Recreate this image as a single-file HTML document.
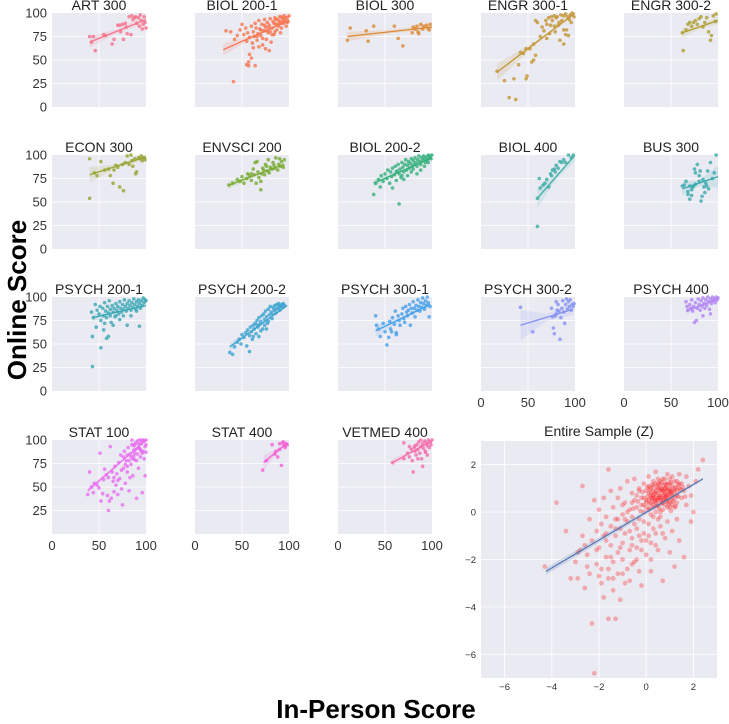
<!DOCTYPE html>
<html><head><meta charset="utf-8">
<style>
html,body{margin:0;padding:0;background:#fff;}
svg{display:block;font-family:"Liberation Sans",Arial,sans-serif;}
</style></head>
<body>
<svg id="fig" width="729" height="724" viewBox="0 0 729 724" xmlns="http://www.w3.org/2000/svg">
<text x="0" y="0" transform="translate(26,300) rotate(-90)" text-anchor="middle" font-size="26" font-weight="bold" fill="#000">Online Score</text>
<text x="376" y="718" text-anchor="middle" font-size="26" font-weight="bold" fill="#000">In-Person Score</text>
</svg>
<script>
// ---- Data ----
const courseNames = ["ART 300","BIOL 200-1","BIOL 300","ENGR 300-1","ENGR 300-2","ECON 300","ENVSCI 200","BIOL 200-2","BIOL 400","BUS 300","PSYCH 200-1","PSYCH 200-2","PSYCH 300-1","PSYCH 300-2","PSYCH 400","STAT 100","STAT 400","VETMED 400"];
const courseColors = ["#f77189","#f7754f","#dc8932","#c39532","#ae9d31","#97a431","#77ab31","#33b07a","#36ada4","#38aaac","#39a7b4","#3ba3d0","#45a0ea","#8591f2","#b184f3","#e86ef0","#f25fd5","#f56baa"];
// regression line endpoints [x0,y0,x1,y1]
const fitLines = [
[40,69,100,93],[30,61,100,92],[10,75,100,85],[17,37,100,100],[62,79,100,92],
[40,79,100,98],[36,68,95,90],[38,70,100,97],[60,54,100,100],[62,64,100,77],
[43,78,100,91],[37,47,98,91],[40,64,98,92],[42,70,98,87],[66,85,100,98],
[38,46,100,100],[73,76,98,97],[58,76,100,99]];
// confidence half-widths [start, middle, end]
const fitBands = [
[6,2,4],[6,1.5,2],[5,2,3],[9,2,3],[5,2,4],[8,2,3],[4,1.5,3],[4,1,2],[10,3,6],[7,3,12],
[4,1,1.5],[4,1,2],[6,2,3],[16,4,6],[4,1.5,2],[4,1.5,2],[8,3,4],[4,1.5,2]];
const coursePoints = [
[[40,75],[44,75],[42,69],[46,60],[55,77],[57,76],[64,67],[66,72],[70,87],[72,87],[73,80],[75,88],[76,72],[78,89],[79,85],[80,78],[82,96],[84,77],[85,97],[86,93],[88,95],[89,96],[90,89],[92,95],[93,86],[94,98],[95,92],[96,83],[97,88],[98,96],[99,90],[100,84]],
[[41,27],[55,45],[57,48],[64,44],[57,44],[58,56],[60,52],[33,81],[38,80],[42,72],[45,76],[48,82],[50,88],[52,77],[54,84],[55,70],[56,79],[58,74],[60,86],[61,68],[62,80],[63,75],[64,89],[65,84],[66,71],[67,78],[68,92],[69,83],[70,76],[71,88],[72,66],[73,81],[74,93],[75,85],[76,72],[77,90],[78,79],[79,87],[80,94],[81,69],[82,84],[83,91],[84,77],[85,95],[86,88],[87,82],[88,93],[89,86],[90,96],[91,90],[92,84],[93,94],[94,89],[95,97],[96,92],[97,86],[98,95],[99,91],[100,97],[72,73],[74,87],[76,81],[78,85],[80,80],[82,77],[84,89],[86,93],[88,88],[90,91],[92,96],[94,92],[96,95],[98,90],[70,82],[66,75],[62,63],[79,60],[85,80],[91,79],[75,62],[68,64]],
[[10,71],[13,84],[30,81],[32,70],[38,86],[60,86],[64,73],[69,65],[79,79],[80,85],[82,83],[84,86],[85,80],[86,78],[88,88],[90,83],[91,86],[94,87],[96,84],[97,82],[98,88]],
[[17,38],[25,28],[30,10],[35,30],[37,8],[40,45],[42,58],[45,57],[48,62],[48,30],[49,33],[52,62],[54,48],[56,67],[56,50],[58,55],[58,92],[60,90],[63,75],[65,85],[67,81],[70,88],[72,95],[73,78],[75,96],[76,92],[78,97],[80,95],[81,96],[83,90],[85,98],[86,92],[88,97],[90,99],[92,96],[94,93],[95,98],[97,100],[99,96],[82,87],[84,71],[88,67],[88,82],[90,77],[91,82],[93,76],[96,90],[70,73],[74,87],[78,86],[79,80],[69,92]],
[[62,79],[63,60],[66,82],[68,88],[70,90],[72,86],[74,90],[76,92],[78,88],[80,94],[82,96],[84,85],[86,90],[88,95],[90,80],[92,71],[93,76],[95,97],[97,91],[98,99]],
[[40,96],[40,54],[45,81],[48,78],[52,93],[56,84],[60,85],[62,78],[65,70],[68,89],[72,66],[76,62],[78,92],[80,99],[82,90],[84,100],[85,94],[86,88],[88,96],[89,80],[90,82],[92,97],[94,96],[95,99],[96,94],[98,97],[99,95],[75,90],[70,87],[66,84]],
[[36,68],[40,70],[45,74],[48,72],[50,77],[52,70],[55,75],[56,80],[58,78],[60,73],[62,85],[63,79],[64,92],[65,70],[66,93],[67,82],[68,76],[70,63],[71,80],[72,86],[73,84],[74,79],[75,90],[76,88],[77,83],[78,95],[79,81],[80,87],[82,85],[83,92],[84,89],[85,86],[86,97],[88,84],[89,90],[90,96],[91,88],[92,93],[94,87],[95,95],[70,72],[60,80]],
[[38,58],[40,70],[43,74],[45,66],[46,78],[48,72],[50,80],[52,75],[53,84],[55,70],[56,82],[57,77],[58,86],[60,79],[61,88],[62,73],[63,83],[64,90],[65,80],[66,85],[67,76],[68,92],[69,87],[70,82],[71,90],[72,95],[73,84],[74,89],[75,93],[76,86],[77,91],[78,96],[79,88],[80,94],[81,90],[82,97],[83,92],[84,88],[85,95],[86,99],[87,93],[88,90],[89,97],[90,94],[91,99],[92,96],[93,92],[94,98],[95,95],[96,100],[97,97],[98,99],[99,96],[100,100],[65,48],[58,65],[70,74],[74,78],[80,85],[84,80],[88,84],[78,82],[68,78],[62,82],[92,88],[96,92]],
[[60,54],[60,24],[63,65],[66,68],[68,70],[70,74],[72,66],[74,80],[76,84],[78,85],[79,82],[80,89],[82,86],[84,93],[86,92],[88,95],[90,92],[93,100],[96,97],[98,100],[62,75],[75,78]],
[[62,67],[64,68],[66,72],[68,58],[68,61],[70,53],[72,57],[73,66],[74,67],[75,85],[76,81],[78,90],[80,72],[82,51],[83,56],[84,74],[85,66],[86,60],[87,70],[88,67],[89,83],[90,64],[92,92],[94,75],[96,81],[98,100],[70,67],[72,63],[76,69],[80,78],[81,83]],
[[43,26],[52,46],[43,58],[60,58],[58,56],[42,84],[44,78],[46,92],[48,86],[50,82],[51,90],[52,75],[54,88],[55,80],[56,94],[57,85],[58,78],[59,90],[60,83],[61,96],[62,87],[63,73],[64,91],[65,84],[66,88],[67,79],[68,93],[69,86],[70,90],[71,82],[72,95],[73,88],[74,84],[75,92],[76,87],[77,97],[78,90],[79,85],[80,93],[81,88],[82,96],[83,91],[84,86],[85,94],[86,89],[87,98],[88,92],[89,87],[90,95],[91,90],[92,97],[93,93],[94,88],[95,96],[96,91],[97,99],[98,94],[99,97],[100,96],[47,68],[55,65],[65,70],[72,76],[80,70],[93,69],[68,80],[76,80],[84,80],[62,80],[90,85],[56,72]],
[[37,41],[40,39],[42,47],[45,52],[47,55],[49,50],[50,60],[52,57],[54,62],[55,48],[56,65],[58,59],[59,68],[60,63],[61,55],[62,70],[63,66],[64,72],[65,61],[66,75],[67,68],[68,78],[69,71],[70,74],[71,80],[72,66],[73,82],[74,76],[75,85],[76,79],[77,72],[78,87],[79,81],[80,90],[81,84],[82,77],[83,89],[84,86],[85,91],[86,83],[87,92],[88,88],[89,93],[90,86],[91,90],[92,92],[93,89],[94,93],[95,91],[58,42],[62,58],[66,70],[70,64],[74,70],[78,74],[82,82],[86,87],[90,90],[68,58],[76,66]],
[[40,80],[41,70],[43,66],[45,58],[48,72],[50,63],[52,49],[54,57],[55,74],[56,66],[58,78],[60,71],[61,85],[62,62],[64,80],[65,75],[66,70],[68,82],[69,88],[70,77],[71,73],[72,90],[73,84],[74,80],[75,86],[76,92],[77,70],[78,88],[79,83],[80,95],[81,88],[82,79],[83,91],[84,86],[85,97],[86,90],[87,85],[88,94],[89,89],[90,99],[91,93],[92,87],[93,96],[94,91],[95,100],[96,94],[97,79],[98,90],[62,60],[57,63]],
[[42,89],[55,63],[75,88],[76,79],[77,67],[78,61],[79,80],[80,82],[82,92],[83,85],[84,55],[85,78],[86,88],[87,96],[88,84],[89,72],[90,92],[91,98],[92,87],[93,95],[94,90],[95,97],[96,86],[97,92],[98,90],[99,93],[81,86],[80,95]],
[[66,95],[67,90],[68,86],[70,92],[71,88],[72,97],[73,85],[74,90],[75,73],[76,94],[77,75],[78,88],[79,98],[80,92],[81,86],[82,96],[83,90],[84,99],[85,93],[86,88],[87,97],[88,91],[89,100],[90,95],[91,87],[92,98],[93,93],[94,100],[95,96],[96,98],[97,94],[98,100],[99,97],[100,99],[84,80],[92,82]],
[[38,42],[40,66],[42,50],[44,44],[45,54],[48,52],[50,49],[51,86],[52,35],[54,43],[55,58],[56,69],[58,63],[59,41],[60,60],[61,35],[62,93],[63,38],[64,66],[65,56],[66,45],[67,72],[68,52],[69,64],[70,42],[71,76],[72,59],[73,84],[74,48],[75,31],[76,70],[77,88],[78,54],[79,78],[80,66],[81,92],[82,46],[83,85],[84,74],[85,95],[86,62],[87,89],[88,79],[89,97],[90,38],[91,85],[92,92],[93,100],[94,82],[95,96],[96,44],[97,88],[98,99],[99,62],[100,95],[85,100],[87,94],[89,90],[91,99],[93,91],[95,88],[97,100],[99,93],[100,87],[90,78],[92,70],[94,90],[96,86],[98,80],[84,82],[82,78],[80,84],[86,80],[88,86],[78,74],[80,72],[76,82],[74,68],[95,100],[100,100],[96,98],[92,96],[88,95],[87,83],[83,60],[70,57],[66,60],[60,25]],
[[72,68],[76,78],[82,95],[85,85],[88,82],[90,90],[92,73],[93,97],[94,98],[95,94],[96,92],[97,96],[98,95],[90,96],[86,88]],
[[58,76],[70,97],[74,86],[76,82],[78,90],[79,78],[80,66],[81,92],[82,88],[83,84],[84,95],[85,90],[86,98],[87,86],[88,93],[89,80],[90,96],[91,91],[92,99],[93,87],[94,97],[95,94],[96,100],[97,92],[98,98],[99,95],[100,100],[85,80],[90,72],[93,88],[95,84],[88,100],[82,94],[76,93],[70,80]]
];
// Entire sample (z-scores)
const zFit = [-4.25,-2.5,2.4,1.4];
const zPoints = [
[-4.3,-2.3],[-3.8,0.4],[-3.4,-0.8],[-3.0,-2.1],[-2.9,-2.8],[-2.8,-1.6],[-2.7,-1.0],[-2.7,1.1],[-2.6,-3.2],[-2.5,-1.8],[-2.4,-2.6],[-2.4,-0.3],[-2.3,-4.7],[-2.3,-1.2],[-2.2,0.5],[-2.2,-6.8],[-2.1,-2.2],[-2.1,-0.8],[-2.0,-1.5],[-2.0,0.1],[-1.9,-3.0],[-1.9,-2.4],[-1.8,-3.6],[-1.8,-1.0],[-1.8,0.6],[-1.7,-0.2],[-1.7,-1.9],[-1.6,-4.5],[-1.6,-2.8],[-1.6,1.8],[-1.5,-0.6],[-1.5,-1.4],[-1.5,0.9],[-1.4,-3.3],[-1.4,-2.1],[-1.4,0.2],[-1.3,-4.5],[-1.3,-1.0],[-1.3,-0.3],[-1.2,-2.6],[-1.2,0.6],[-1.2,-1.7],[-1.1,-3.7],[-1.1,-0.7],[-1.1,1.0],[-1.0,-2.0],[-1.0,-0.1],[-1.0,-1.3],[-0.9,-3.0],[-0.9,0.4],[-0.9,-0.9],[-0.8,-2.4],[-0.8,1.3],[-0.8,-0.4],[-0.7,-1.6],[-0.7,0.1],[-0.7,-2.9],[-0.6,0.8],[-0.6,-1.1],[-0.6,-0.2],[-0.5,-2.1],[-0.5,0.5],[-0.5,1.4],[-0.4,-0.7],[-0.4,-1.5],[-0.4,0.2],[-0.3,-2.5],[-0.3,1.0],[-0.3,-0.3],[-0.2,-1.2],[-0.2,0.6],[-0.2,-3.1],[-0.1,0.0],[-0.1,1.2],[-0.1,-0.9],[0.0,-1.8],[0.0,0.4],[0.0,0.9],[0.1,-0.5],[0.1,1.5],[0.1,0.1],[0.2,-1.3],[0.2,0.7],[0.2,-2.5],[0.3,1.1],[0.3,0.3],[0.3,-0.2],[0.4,-0.9],[0.4,0.8],[0.4,1.7],[0.5,0.5],[0.5,-1.6],[0.5,1.2],[0.6,0.0],[0.6,0.9],[0.6,-0.6],[0.7,1.4],[0.7,0.4],[0.7,-2.9],[0.8,-1.1],[0.8,1.0],[0.8,0.6],[0.9,1.6],[0.9,0.2],[0.9,-0.4],[1.0,0.9],[1.0,1.2],[1.0,-1.7],[1.1,0.5],[1.1,1.5],[1.1,-0.8],[1.2,1.0],[1.2,0.2],[1.2,-2.3],[1.3,1.3],[1.3,0.7],[1.3,-0.3],[1.4,1.0],[1.4,1.6],[1.4,-1.2],[1.5,0.6],[1.5,1.2],[1.6,0.9],[1.6,-1.9],[1.7,1.5],[1.7,0.3],[1.8,1.1],[1.9,0.7],[1.9,-0.4],[2.0,0.0],[2.1,1.3],[2.2,1.8],[2.4,2.2],
[0.0,0.5],[0.1,0.8],[0.2,0.4],[0.3,0.9],[0.4,0.6],[0.5,1.0],[0.6,0.7],[0.7,1.1],[0.8,0.8],[0.9,1.2],[1.0,0.6],[1.1,0.9],[1.2,1.3],[1.3,0.9],[1.4,1.2],[0.2,1.0],[0.4,1.2],[0.6,1.3],[0.8,1.4],[1.0,1.4],[0.3,0.2],[0.5,0.3],[0.7,0.1],[0.9,0.5],[1.1,0.3],[-0.2,0.3],[-0.4,0.7],[-0.6,0.4],[-0.3,0.9],[-0.1,0.6],[0.0,0.2],[0.2,-0.1],[0.4,0.0],[0.6,-0.2],[0.8,0.3],[1.0,0.2],[1.2,0.6],[1.3,0.4],[0.1,1.1],[0.3,1.3],[0.5,1.4],[0.7,0.7],[0.9,0.9],[1.1,1.1],[0.4,0.4],[0.6,0.6],[0.8,1.0],[1.0,1.0],[0.5,0.8],[0.3,0.6],
[0.05,0.65],[0.15,0.95],[0.25,0.55],[0.35,0.75],[0.45,1.05],[0.55,0.65],[0.65,0.95],[0.75,0.55],[0.85,1.15],[0.95,0.75],[1.05,1.25],[1.15,0.75],[1.25,1.05],[1.35,0.65],[1.45,0.95],[0.15,0.35],[0.35,0.45],[0.55,0.15],[0.75,0.85],[0.95,0.35],[1.15,0.45],[1.35,1.15],[0.25,1.15],[0.45,0.25],[0.65,1.25],[0.85,0.45],[1.05,0.85],[1.25,0.25],[0.05,1.05],[0.55,1.15],[1.55,1.05],[1.65,0.65],[-0.15,0.85],[-0.35,0.45],[-0.55,0.15],[-0.25,0.05],[0.15,0.15],[0.65,0.35],[1.05,0.05],[0.85,0.65],
[0.2,0.8],[0.4,0.9],[0.6,0.5],[0.8,0.7],[1.0,0.8],[1.2,0.9],[0.3,0.7],[0.5,0.6],[0.7,0.9],[0.9,0.7],[1.1,0.7],[0.6,1.0],[0.4,0.5],[0.8,1.2],[1.0,0.4],[0.2,0.6],[-0.1,0.3],[0.1,0.5],[0.9,1.0],[0.7,0.5],
[-0.5,-0.5],[-0.7,-0.8],[-0.9,-0.3],[-1.1,-1.5],[-1.3,-0.7],[-1.5,-1.9],[-1.7,-1.2],[-1.9,-0.5],[-2.1,-1.6],[-0.3,-1.0],[-0.1,-0.4],[0.1,-1.0],[0.3,-0.7],[0.5,-0.3],[0.7,-0.9],[-0.8,0.0],[-1.0,0.3],[-1.2,-0.3],[-0.6,-1.4],[-0.4,-2.0],[-0.2,-1.6],[0.0,-1.2],[0.2,-2.0],[0.4,-1.4],[-1.6,-2.4],[-1.4,-2.8],[-1.0,-2.6],[-0.6,-2.2],[-2.5,-2.3],[-2.9,-1.7],[-3.2,-2.8],[-2.6,-1.4],[-2.0,-2.7],[-1.7,-0.9]
];
const zXTicks = [-6,-4,-2,0,2];
const zYTicks = [-6,-4,-2,0,2];
const smallTicks = [0,25,50,75,100];

// ---- Layout ----
const NS = "http://www.w3.org/2000/svg";
const svg = document.getElementById('fig');
const colX = [52,195,338,481,624], rowY = [13,155,297,440], PS = 94;
function mk(tag, attrs, parent){const e=document.createElementNS(NS,tag);for(const k in attrs)e.setAttribute(k,attrs[k]);(parent||svg).appendChild(e);return e;}

courseNames.forEach((name,i)=>{
  const r = Math.floor(i/5), c = i%5;
  const x0 = colX[c], y0 = rowY[r];
  const sx = v => x0 + v/100*PS;
  const sy = v => y0 + PS - v/100*PS;
  const g = mk('g',{});
  
  
  const bg = mk('rect',{x:x0,y:y0,width:PS,height:PS,fill:'#eaeaf2'},g);
  
  
  [25,50,75].forEach(t=>{mk('line',{x1:x0,x2:x0+PS,y1:sy(t),y2:sy(t),stroke:'#fff','stroke-width':0.8},g);});
  mk('line',{x1:sx(50),x2:sx(50),y1:y0,y2:y0+PS,stroke:'#fff','stroke-width':0.8},g);
  const title = mk('text',{x:x0+PS/2,y:y0-3,'text-anchor':'middle','font-size':14,fill:'#222'},g);
  title.textContent = name;
  
  
  const col = courseColors[i];
  const L = fitLines[i], B = fitBands[i];
  const xm = (L[0]+L[2])/2, ym = (L[1]+L[3])/2;
  const band = mk('polygon',{points:[[L[0],L[1]+B[0]],[xm,ym+B[1]],[L[2],L[3]+B[2]],[L[2],L[3]-B[2]],[xm,ym-B[1]],[L[0],L[1]-B[0]]].map(p=>sx(p[0])+','+sy(Math.min(p[1],100))).join(' '),fill:col,'fill-opacity':0.15},g);
  
  
  coursePoints[i].forEach(p=>{
    const d = mk('circle',{cx:sx(p[0]),cy:sy(p[1]),r:1.8,fill:col,'fill-opacity':0.8},g);
    
    
  });
  const ln = mk('line',{x1:sx(L[0]),y1:sy(L[1]),x2:sx(L[2]),y2:sy(L[3]),stroke:col,'stroke-width':1.3},g);
  
  
  if(c===0){
    smallTicks.forEach(t=>{
      if(r===3 && t===0) return;
      const tl = mk('text',{x:x0-5,y:sy(t)+4.5,'text-anchor':'end','font-size':13,fill:'#333'},g);
      tl.textContent = t;
      
      
    });
  }
  if(r===3 || (r===2 && c>=3)){
    [0,50,100].forEach(t=>{
      const tl = mk('text',{x:sx(t),y:y0+PS+16,'text-anchor':'middle','font-size':13,fill:'#333'},g);
      tl.textContent = t;
      
      
    });
  }
});

// Entire sample panel
(function(){
  const x0=481,y0=441,W=236,H=237;
  const sx = v => x0 + (v+7)/10*W;
  const sy = v => y0 + (3-v)/10*H;
  const g = mk('g',{});
  
  
  mk('rect',{x:x0,y:y0,width:W,height:H,fill:'#eaeaf2'},g);
  zXTicks.forEach(t=>{mk('line',{x1:sx(t),x2:sx(t),y1:y0,y2:y0+H,stroke:'#fff','stroke-width':0.8},g);});
  zYTicks.forEach(t=>{mk('line',{x1:x0,x2:x0+W,y1:sy(t),y2:sy(t),stroke:'#fff','stroke-width':0.8},g);});
  const title = mk('text',{x:x0+W/2,y:y0-5,'text-anchor':'middle','font-size':14,fill:'#222'},g);
  title.textContent = 'Entire Sample (Z)';
  
  
  zPoints.forEach(p=>{
    const d = mk('circle',{cx:sx(p[0]),cy:sy(p[1]),r:2.4,fill:'#ff0000','fill-opacity':0.28},g);
    
    
  });
  const band = mk('polygon',{points:[[zFit[0],zFit[1]+0.15],[zFit[2],zFit[3]+0.06],[zFit[2],zFit[3]-0.06],[zFit[0],zFit[1]-0.15]].map(p=>sx(p[0])+','+sy(p[1])).join(' '),fill:'#4c72b0','fill-opacity':0.18},g);
  
  
  const ln = mk('line',{x1:sx(zFit[0]),y1:sy(zFit[1]),x2:sx(zFit[2]),y2:sy(zFit[3]),stroke:'#4c72b0','stroke-width':1.1},g);
  
  
  zXTicks.forEach(t=>{
    const tl = mk('text',{x:sx(t),y:y0+H+12,'text-anchor':'middle','font-size':9.5,fill:'#333'},g);
    tl.textContent = t<0 ? '\u2212'+(-t) : t;
    
    
  });
  zYTicks.forEach(t=>{
    const tl = mk('text',{x:x0-5,y:sy(t)+3.5,'text-anchor':'end','font-size':9.5,fill:'#333'},g);
    tl.textContent = t<0 ? '\u2212'+(-t) : t;
    
    
  });
})();
</script>
</body></html>
